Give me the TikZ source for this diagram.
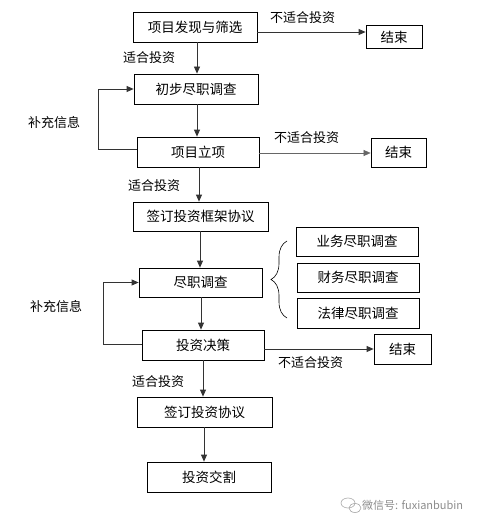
\documentclass[tikz,border=0pt]{standalone}
\usepackage{fontspec}
\setmainfont{Noto Sans CJK SC}
\usetikzlibrary{arrows.meta, positioning, decorations.pathreplacing}

\begin{document}
\begin{tikzpicture}[x=1pt, y=-1pt,
    box/.style={draw, line width=0.8pt, inner sep=0pt, font=\fontsize{13.5}{15}\selectfont},
    arr/.style={-{Triangle[length=7pt, width=6pt]}, line width=0.8pt, black!80},
    lbl/.style={inner sep=0pt, font=\fontsize{13}{15}\selectfont}]
    \useasboundingbox (0,0) rectangle (485,527);

    % Main flow
    \node[box, minimum width=124pt, minimum height=30pt] (find) at (195,27) {项目发现与筛选};
    \node[box, minimum width=124pt, minimum height=30pt] (pre) at (196,89) {初步尽职调查};
    \node[box, minimum width=122pt, minimum height=30pt] (setup) at (198,152) {项目立项};
    \node[box, minimum width=135pt, minimum height=29pt] (frame) at (200.5,216.5) {签订投资框架协议};
    \node[box, minimum width=123pt, minimum height=29pt] (dd) at (200.5,282.5) {尽职调查};
    \node[box, minimum width=122pt, minimum height=30pt] (decide) at (203,345) {投资决策};
    \node[box, minimum width=135pt, minimum height=30pt] (sign) at (204.5,412) {签订投资协议};
    \node[box, minimum width=124pt, minimum height=30pt] (deliver) at (209,477) {投资交割};

    % End boxes
    \node[box, minimum width=56pt, minimum height=23pt] (end1) at (394,37) {结束};
    \node[box, minimum width=55pt, minimum height=29pt] (end2) at (398.5,152.5) {结束};
    \node[box, minimum width=57pt, minimum height=30pt] (end3) at (402.5,349) {结束};

    % Due diligence parts
    \node[box, minimum width=122pt, minimum height=29pt] (biz) at (357,241.5) {业务尽职调查};
    \node[box, minimum width=122pt, minimum height=29pt] (fin) at (358,277.5) {财务尽职调查};
    \node[box, minimum width=122pt, minimum height=30pt] (law) at (358,313) {法律尽职调查};

    % Downward arrows
    \draw[arr] (find.south -| 197,0) -- (197,0 |- pre.north);
    \draw[arr] (pre.south -| 197,0) -- (197,0 |- setup.north);
    \draw[arr] (setup.south -| 199,0) -- (199,0 |- frame.north);
    \draw[arr] (frame.south -| 200,0) -- (200,0 |- dd.north);
    \draw[arr] (dd.south -| 201,0) -- (201,0 |- decide.north);
    \draw[arr] (decide.south -| 203,0) -- (203,0 |- sign.north);
    \draw[arr] (sign.south -| 204,0) -- (204,0 |- deliver.north);

    % Rejection arrows
    \draw[arr] (find.east |- 0,32) -- (end1.west |- 0,32);
    \draw[arr, black!60, line width=0.6pt] (setup.east |- 0,153) -- (end2.west |- 0,153);
    \draw[arr] (decide.east |- 0,349) -- (end3.west |- 0,349);

    % Feedback loops
    \draw[arr] (setup.west |- 0,149) -- (98,149) |- (pre.west);
    \draw[arr] (decide.west |- 0,344) -- (103,344) |- (dd.west);

    % Brace
    \coordinate (braceb) at (287,318);
    \coordinate (bracet) at (287,241);
    \draw[line width=0.6pt, decorate, decoration={brace, amplitude=16pt}] (braceb) -- (bracet);

    % Labels
    \node[lbl, anchor=west] (no1) at (270,18) {不适合投资};
    \node[lbl, anchor=west] (yes1) at (123,58) {适合投资};
    \node[lbl, anchor=west] (add1) at (28,123) {补充信息};
    \node[lbl, anchor=west] (no2) at (274,138) {不适合投资};
    \node[lbl, anchor=west] (yes2) at (128,186) {适合投资};
    \node[lbl, anchor=west] (add2) at (30,307) {补充信息};
    \node[lbl, anchor=west] (no3) at (278,363) {不适合投资};
    \node[lbl, anchor=west] (yes3) at (132,382) {适合投资};

    % Watermark
    \draw[black!35, line width=0.6pt] (348,503) ellipse (7pt and 5pt);
    \draw[black!35, line width=0.6pt] (355,508) ellipse (6pt and 4.5pt);
    \node[anchor=west, inner sep=0pt, black!45, font=\fontsize{11}{13}\selectfont] (wm) at (362,505) {微信号: fuxianbubin};
\end{tikzpicture}
\end{document}
